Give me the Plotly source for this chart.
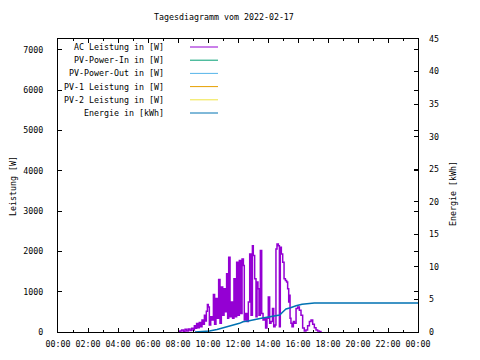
import plotly.graph_objects as go
import pandas as pd

# ---- data (hours of day, values) ----
ac_hours = [8.02, 8.13, 8.24, 8.36, 8.47, 8.58, 8.69, 8.80, 8.91, 9.02, 9.09, 9.18, 9.24, 9.33, 9.42,
            9.51, 9.60, 9.69, 9.76, 9.82, 9.89, 9.96, 10.02, 10.09, 10.18, 10.27, 10.36, 10.44, 10.53,
            10.62, 10.71, 10.80, 10.89, 10.98, 11.07, 11.16, 11.24, 11.31, 11.38, 11.47, 11.56, 11.64,
            11.73, 11.82, 11.91, 12.00, 12.09, 12.18, 12.27, 12.36, 12.42, 12.51, 12.60, 12.69, 12.78,
            12.87, 12.96, 13.02, 13.11, 13.20, 13.27, 13.33, 13.40, 13.49, 13.58, 13.67, 13.76, 13.84,
            13.93, 14.02, 14.11, 14.20, 14.30, 14.38, 14.47, 14.53, 14.60, 14.69, 14.76, 14.82, 14.89,
            14.98, 15.07, 15.16, 15.24, 15.31, 15.38, 15.42, 15.47, 15.53, 15.60, 15.69, 15.76, 15.87,
            15.98, 16.09, 16.20, 16.31, 16.42, 16.53, 16.64, 16.76, 16.87, 16.98, 17.09, 17.20, 17.31,
            17.42, 17.53]
ac_power = [10, 25, 49, 10, 66, 25, 74, 40, 90, 50, 155, 90, 214, 105, 238,
            130, 300, 190, 418, 275, 517, 681, 620, 172, 380, 300, 928, 190, 830,
            340, 1305, 215, 1116, 418, 1075, 500, 1445, 340, 1855, 380, 746, 340,
            1322, 380, 1732, 418, 1773, 460, 1814, 1650, 300, 460, 260, 746, 1937,
            418, 2143, 1900, 1322, 380, 1240, 1075, 418, 2020, 460, 300, 340, 100,
            340, 870, 215, 260, 580, 130, 172, 2060, 2184, 2143, 130, 2100, 1937,
            1732, 1322, 1280, 1240, 1075, 746, 910, 340, 215, 130, 260, 215, 580,
            620, 540, 418, 100, 25, 50, 155, 260, 300, 190, 105, 50, 25,
            15, 0]

energy_hours = [9.13, 9.90, 10.10, 10.60, 11.00, 11.33, 11.78, 12.10, 12.33, 12.67, 13.55, 14.30,
                14.78, 15.00, 15.20, 15.50, 15.87, 16.27, 17.09, 24.00]
energy_kwh = [0, 0.05, 0.15, 0.40, 0.66, 0.81, 1.07, 1.33, 1.58, 1.69, 2.10, 2.35,
              2.60, 3.12, 3.53, 3.73, 4.04, 4.25, 4.45, 4.45]

pv_in = []
pv_out = []
pv1 = []
pv2 = []

series_names = ["AC Leistung in [W]", "PV-Power-In in [W]", "PV-Power-Out in [W]",
                "PV-1 Leistung in [W]", "PV-2 Leistung in [W]", "Energie in [kWh]"]
series_colors = ["#9400D3", "#009E73", "#56B4E9", "#E69F00", "#F0E442", "#0072B2"]

title_text = "Tagesdiagramm vom 2022-02-17"
day = pd.Timestamp("2022-02-17")

def to_time(hours):
    return [day + pd.Timedelta(hours=h) for h in hours]

FONT = "DejaVu Sans Mono"
FS = 8.3

fig = go.Figure()
fig.add_trace(go.Scatter(x=to_time(ac_hours), y=ac_power, mode="lines",
                         line=dict(color=series_colors[0], width=1.5, shape="hv"),
                         name=series_names[0], showlegend=False))
for vals, nm, col in zip([pv_in, pv_out, pv1, pv2], series_names[1:5], series_colors[1:5]):
    fig.add_trace(go.Scatter(x=[], y=vals, mode="lines", line=dict(color=col, width=1.5),
                             name=nm, showlegend=False))
fig.add_trace(go.Scatter(x=to_time(energy_hours), y=energy_kwh, mode="lines",
                         line=dict(color=series_colors[5], width=1.5),
                         name=series_names[5], yaxis="y2", showlegend=False))

# page has an 8px body margin; positions below are in screenshot pixels
OFF = 8
L, R, T, B = 58, 418, 39, 332
W, H = 480 - OFF, 360 - OFF
def px(xp):
    return (xp - L) / (R - L)
def py(yp):
    return (B - yp) / (B - T)

anns = []
shapes = []
row_y = [47, 60.2, 73.4, 86.6, 99.8, 113]
for i, (nm, col) in enumerate(zip(series_names, series_colors)):
    anns.append(dict(x=px(166), y=py(row_y[i]), xref="paper", yref="paper", text=nm,
                     showarrow=False, xanchor="right", yanchor="middle",
                     font=dict(family=FONT, size=FS, color="black")))
    shapes.append(dict(type="line", xref="paper", yref="paper", x0=px(190), x1=px(218),
                       y0=py(row_y[i]), y1=py(row_y[i]), line=dict(color=col, width=1)))

anns.append(dict(x=px(223.5), y=py(17), xref="paper", yref="paper", text=title_text,
                 showarrow=False, xanchor="center", yanchor="middle",
                 font=dict(family=FONT, size=FS, color="black")))
anns.append(dict(x=px(13), y=py(186), xref="paper", yref="paper", text="Leistung [W]",
                 showarrow=False, textangle=-90, xanchor="center", yanchor="middle",
                 font=dict(family=FONT, size=FS, color="black")))
anns.append(dict(x=px(453), y=py(194), xref="paper", yref="paper", text="Energie [kWh]",
                 showarrow=False, textangle=-90, xanchor="center", yanchor="middle",
                 font=dict(family=FONT, size=FS, color="black")))

fig.update_layout(
    width=W, height=H,
    margin=dict(l=L - OFF, r=W - (R - OFF), t=T - OFF, b=H - (B - OFF), pad=0, autoexpand=False),
    paper_bgcolor="white", plot_bgcolor="white",
    font=dict(family=FONT, size=FS, color="black"),
    showlegend=False,
    annotations=anns, shapes=shapes,
    xaxis=dict(type="date", range=[day, day + pd.Timedelta(hours=24)],
               tick0=day, dtick=2 * 3600 * 1000, tickformat="%H:%M",
               ticks="inside", ticklen=4, tickcolor="black", showgrid=False, zeroline=False,
               showline=True, linecolor="black", linewidth=1, mirror="ticks",
               ticklabelstandoff=4,
               minor=dict(dtick=3600 * 1000, ticks="inside", ticklen=2, tickcolor="black", showgrid=False)),
    yaxis=dict(range=[0, 7270], dtick=1000, ticks="inside", ticklen=4, tickcolor="black",
               showgrid=False, zeroline=False, showline=True, linecolor="black", linewidth=1,
               mirror="ticks", ticklabelstandoff=12),
    yaxis2=dict(range=[0, 45], dtick=5, overlaying="y", side="right", ticks="inside", ticklen=4,
                tickcolor="black", showgrid=False, zeroline=False, showline=False,
                ticklabelstandoff=10),
)

fig.write_html("out.html")
